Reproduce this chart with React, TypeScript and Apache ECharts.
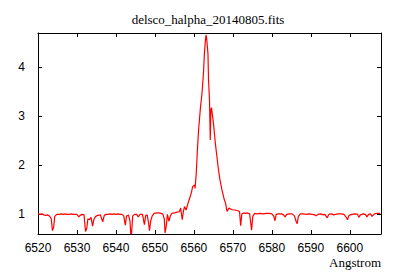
import React, { useEffect, useRef } from "react";
import * as echarts from "echarts";

const titleText = "delsco_halpha_20140805.fits";
const xAxisLabel = "Angstrom";
const xTicks = [6520, 6530, 6540, 6550, 6560, 6570, 6580, 6590, 6600];
const yTicks = [1, 2, 3, 4];

const wavelengths = [
  6520.0, 6520.5, 6521.0, 6521.5, 6522.0, 6522.5, 6523.0, 6523.4, 6523.7, 6524.0,
  6524.3, 6524.8, 6525.5, 6526.0, 6526.5, 6527.0, 6527.5, 6528.0, 6528.5, 6529.0,
  6529.5, 6530.0, 6530.5, 6530.8, 6531.3, 6531.8, 6532.2, 6532.5, 6532.8, 6533.2,
  6533.6, 6534.0, 6534.3, 6534.8, 6535.3, 6536.0, 6536.6, 6537.0, 6537.5, 6538.0,
  6538.5, 6539.0, 6539.5, 6540.0, 6540.5, 6541.0, 6541.5, 6542.0, 6542.4, 6542.7,
  6543.2, 6543.6, 6543.8, 6544.0, 6544.3, 6544.8, 6545.3, 6545.7, 6546.2, 6546.8,
  6547.3, 6547.6, 6548.0, 6548.4, 6548.6, 6548.9, 6549.3, 6549.8, 6550.5, 6551.0,
  6551.5, 6552.0, 6552.4, 6552.6, 6552.9, 6553.2, 6553.6, 6553.9, 6554.3, 6555.0,
  6555.9, 6556.3, 6556.6, 6557.0, 6557.3, 6557.6, 6558.0, 6558.5, 6558.9, 6559.3,
  6559.7, 6560.2, 6560.3, 6560.6, 6560.85, 6561.2, 6561.7, 6562.05, 6562.45, 6562.7,
  6563.0, 6563.15, 6563.3, 6563.6, 6563.75, 6564.0, 6564.2, 6564.35, 6564.5, 6564.8,
  6565.1, 6565.5, 6565.9, 6566.3, 6566.7, 6567.2, 6567.7, 6568.1, 6568.5, 6569.0,
  6569.6, 6570.4, 6571.1, 6571.7, 6572.0, 6572.3, 6572.8, 6573.3, 6573.8, 6574.3,
  6574.6, 6574.8, 6575.1, 6575.6, 6576.2, 6577.0, 6577.8, 6578.5, 6579.3, 6580.0,
  6580.5, 6580.8, 6581.1, 6581.7, 6582.4, 6583.0, 6583.4, 6583.8, 6584.5, 6585.2,
  6585.8, 6586.2, 6586.5, 6586.8, 6587.3, 6588.0, 6588.8, 6589.5, 6590.3, 6591.0,
  6591.4, 6591.8, 6592.5, 6593.2, 6593.6, 6594.2, 6594.6, 6595.3, 6595.8, 6596.3,
  6597.0, 6597.8, 6598.5, 6599.1, 6599.4, 6599.8, 6600.5, 6601.3, 6602.0, 6602.3,
  6602.7, 6603.5, 6604.1, 6604.4, 6604.8, 6605.3, 6605.7, 6606.3, 6607.0, 6607.8,
];

const fluxes = [
  1.0, 0.99, 1.0, 0.98, 0.97, 0.98, 0.95, 0.9, 0.66, 0.72,
  0.95, 0.99, 0.99, 1.0, 0.99, 1.0, 0.99, 0.99, 1.0, 0.99,
  0.99, 0.99, 0.94, 0.97, 0.99, 0.98, 0.64, 0.7, 0.9, 0.88,
  0.93, 0.75, 0.88, 0.95, 0.97, 0.98, 0.84, 0.97, 0.99, 0.99,
  1.0, 0.99, 1.0, 0.99, 1.0, 0.99, 0.99, 0.96, 0.77, 0.95,
  0.98, 0.85, 0.59, 0.6, 0.96, 0.99, 0.99, 0.94, 0.99, 0.99,
  0.78, 0.96, 0.98, 0.8, 0.66, 0.85, 0.96, 1.01, 1.02, 1.02,
  1.01, 1.0, 0.9, 0.61, 0.75, 0.99, 0.85, 0.95, 1.01, 1.02,
  1.04, 1.05, 1.12, 0.88, 1.05, 1.15, 1.08, 1.22, 1.32, 1.42,
  1.56, 1.59, 1.52, 1.83, 2.24, 2.71, 3.19, 3.43, 3.87, 4.28,
  4.59, 4.65, 4.55, 4.28, 3.73, 3.33, 2.51, 3.12, 3.17, 2.99,
  2.78, 2.44, 2.17, 1.9, 1.69, 1.49, 1.32, 1.22, 1.05, 1.12,
  1.09, 1.08, 1.07, 1.05, 0.76, 1.0, 1.02, 1.01, 1.02, 1.0,
  0.8, 0.67, 0.95, 1.01, 1.0, 1.01, 1.0, 1.01, 1.01, 1.0,
  0.95, 0.86, 0.99, 1.0, 1.0, 0.98, 0.94, 0.99, 1.0, 1.0,
  0.96, 0.85, 0.8, 0.95, 1.0, 1.0, 0.99, 1.0, 0.99, 0.98,
  0.96, 0.99, 1.0, 0.98, 0.99, 0.92, 0.99, 1.0, 0.98, 0.99,
  1.0, 1.0, 0.99, 0.93, 0.88, 0.97, 0.99, 1.0, 0.99, 0.93,
  0.98, 1.0, 0.98, 0.94, 0.99, 1.0, 0.95, 1.0, 1.01, 1.01,
];

const X_MIN = 6520;
const X_MAX = 6608;
const Y_MIN = 0.59;
const Y_MAX = 4.69;

export default function App() {
  const ref = useRef<HTMLDivElement>(null);
  useEffect(() => {
    document.body.style.margin = "0";
    if (!ref.current) return;
    const chart = echarts.init(ref.current, null, { renderer: "svg" });
    const data = wavelengths.map((w, i) => [w, fluxes[i]]);
    const labelFont = { fontFamily: "Liberation Sans", fontSize: 12, color: "#000" };
    const lineStyle = { color: "#000", width: 1 };
    const plain = (v: number) => String(v);
    chart.setOption({
      animation: false,
      backgroundColor: "#fff",
      grid: { left: 38, right: 19, top: 33, bottom: 46, containLabel: false },
      xAxis: [
        {
          type: "value",
          min: X_MIN,
          max: X_MAX,
          position: "bottom",
          axisLine: { show: true, lineStyle },
          axisTick: { show: true, inside: true, length: 4, lineStyle, customValues: xTicks },
          axisLabel: { ...labelFont, margin: 8, customValues: xTicks, formatter: plain },
          splitLine: { show: false },
        },
        {
          type: "value",
          min: X_MIN,
          max: X_MAX,
          position: "top",
          axisLine: { show: true, lineStyle },
          axisTick: { show: true, inside: true, length: 4, lineStyle, customValues: xTicks },
          axisLabel: { show: false },
          splitLine: { show: false },
        },
      ],
      yAxis: [
        {
          type: "value",
          min: Y_MIN,
          max: Y_MAX,
          position: "left",
          axisLine: { show: true, lineStyle },
          axisTick: { show: true, inside: true, length: 4, lineStyle, customValues: yTicks },
          axisLabel: { ...labelFont, margin: 13, customValues: yTicks, formatter: plain },
          splitLine: { show: false },
        },
        {
          type: "value",
          min: Y_MIN,
          max: Y_MAX,
          position: "right",
          axisLine: { show: true, lineStyle },
          axisTick: { show: true, inside: true, length: 4, lineStyle, customValues: yTicks },
          axisLabel: { show: false },
          splitLine: { show: false },
        },
      ],
      graphic: [
        {
          type: "text",
          x: 208,
          y: 19,
          style: {
            text: titleText,
            fill: "#000",
            font: "13px 'Liberation Serif'",
            textAlign: "center",
            textVerticalAlign: "middle",
            align: "center",
            verticalAlign: "middle",
          },
        },
        {
          type: "text",
          x: 381,
          y: 262,
          style: {
            text: xAxisLabel,
            fill: "#000",
            font: "13px 'Liberation Serif'",
            textAlign: "right",
            textVerticalAlign: "middle",
            align: "right",
            verticalAlign: "middle",
          },
        },
      ],
      series: [
        {
          type: "line",
          xAxisIndex: 0,
          yAxisIndex: 0,
          data,
          showSymbol: false,
          symbol: "none",
          lineStyle: { color: "#ff0000", width: 1.2 },
          itemStyle: { color: "#ff0000" },
          clip: true,
        },
      ],
    });
    return () => chart.dispose();
  }, []);
  return (
    <div
      ref={ref}
      style={{ width: 400, height: 280, position: "absolute", left: 0, top: 0 }}
    />
  );
}
